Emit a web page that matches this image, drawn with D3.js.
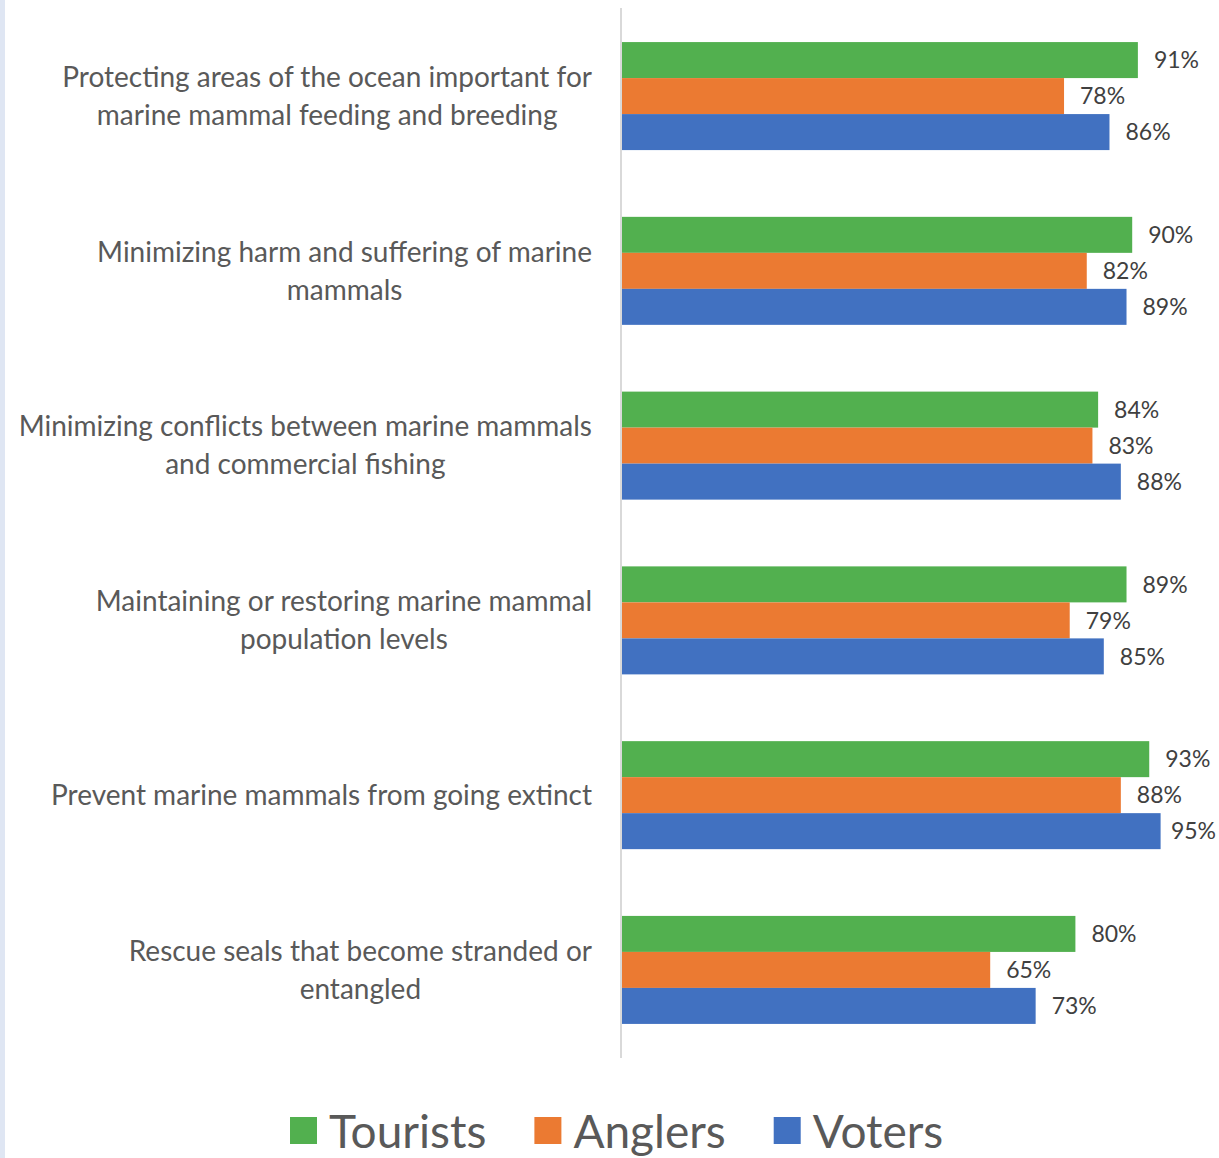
<!DOCTYPE html>
<html>
<head>
<meta charset="utf-8">
<script src="https://cdn.jsdelivr.net/npm/d3@7"></script>
<style>
  body { margin: 0; background: #fff; }
  svg { display: block; font-family: Lato, "Open Sans", sans-serif; }
</style>
</head>
<body>
<div id="grafico"></div>
<script>
// data
var categories = [
    "Protecting areas of the ocean important for|marine mammal feeding and breeding",
    "Minimizing harm and suffering of marine|mammals",
    "Minimizing conflicts between marine mammals|and commercial fishing",
    "Maintaining or restoring marine mammal|population levels",
    "Prevent marine mammals from going extinct",
    "Rescue seals that become stranded or|entangled"
];
var series = ["Tourists", "Anglers", "Voters"];
var tourists = [91, 90, 84, 89, 93, 80];
var anglers = [78, 82, 83, 79, 88, 65];
var voters = [86, 89, 88, 85, 95, 73];
var colors = ["#52b04f", "#eb7a32", "#4171c1"];

var values = [tourists, anglers, voters];

var width = 1219,
    height = 1158;

var svg = d3.select("#grafico").append("svg")
    .attr("width", width)
    .attr("height", height)

// faint strip on the left edge
svg.append("rect")
    .attr("x", 0).attr("y", 0)
    .attr("width", 5).attr("height", height)
    .attr("fill", "#dfe6f3")

var x = d3.scaleLinear().domain([0, 100]).range([621, 1189])

var y = d3.scaleBand()
    .domain(categories)
    .range([8, 1058])
    .paddingInner(0.382)
    .paddingOuter(0.195)

var ySub = d3.scaleBand()
    .domain(series)
    .range([0, y.bandwidth()])

var rows = categories.map(function(c, i) {
    return {
        cat: c,
        bars: series.map(function(s, j) {
            return { series: s, value: values[j][i], color: colors[j] }
        })
    }
})

var groups = svg.selectAll(".grupo")
    .data(rows)
    .enter()
    .append("g")
    .attr("class", "grupo")
    .attr("transform", function(d) { return "translate(0," + y(d.cat) + ")" })

groups.selectAll("rect")
    .data(function(d) { return d.bars })
    .enter()
    .append("rect")
    .attr("x", x(0))
    .attr("y", function(d) { return ySub(d.series) })
    .attr("width", function(d) { return x(d.value) - x(0) })
    .attr("height", ySub.bandwidth())
    .attr("fill", function(d) { return d.color })

groups.selectAll(".valor")
    .data(function(d) { return d.bars })
    .enter()
    .append("text")
    .attr("class", "valor")
    .attr("y", function(d) { return ySub(d.series) + ySub.bandwidth() / 2 })
    .attr("dy", "0.36em")
    .attr("font-size", 23)
    .attr("fill", "#404040")
    .text(function(d) { return d.value + "%" })
    .attr("x", function(d) {
        // keep label inside the picture, like the reference does for 95%
        var w = this.getComputedTextLength()
        return Math.min(x(d.value) + 16, width - 3 - w)
    })

// category labels, lines centred on each other, block right-aligned to the axis
groups.each(function(d) {
    var lines = d.cat.split("|")
    var t = d3.select(this).append("text")
        .attr("text-anchor", "middle")
        .attr("font-size", 28)
        .attr("fill", "#595959")
    var lh = 38
    var mid = y.bandwidth() / 2
    lines.forEach(function(line, k) {
        t.append("tspan")
            .attr("x", 0)
            .attr("y", mid + (k - (lines.length - 1) / 2) * lh)
            .attr("dy", "0.35em")
            .text(line)
    })
    var bb = t.node().getBBox()
    t.attr("transform", "translate(" + (592 - bb.width / 2) + ",0)")
})

// axis line
svg.append("line")
    .attr("x1", x(0)).attr("x2", x(0))
    .attr("y1", 8).attr("y2", 1058)
    .attr("stroke", "#d9d9d9")
    .attr("stroke-width", 2)

// legend
var legend = svg.append("g").attr("class", "legend")
var lx = 0
series.forEach(function(s, i) {
    var g = legend.append("g").attr("transform", "translate(" + lx + ",0)")
    g.append("rect")
        .attr("x", 0).attr("y", -31)
        .attr("width", 27).attr("height", 27)
        .attr("fill", colors[i])
    var t = g.append("text")
        .attr("x", 39)
        .attr("y", 0)
        .attr("font-size", 46)
        .attr("fill", "#595959")
        .text(s)
    lx += 39 + t.node().getComputedTextLength() + 48
})
legend.attr("transform", "translate(290,1148)")
</script>
</body>
</html>
